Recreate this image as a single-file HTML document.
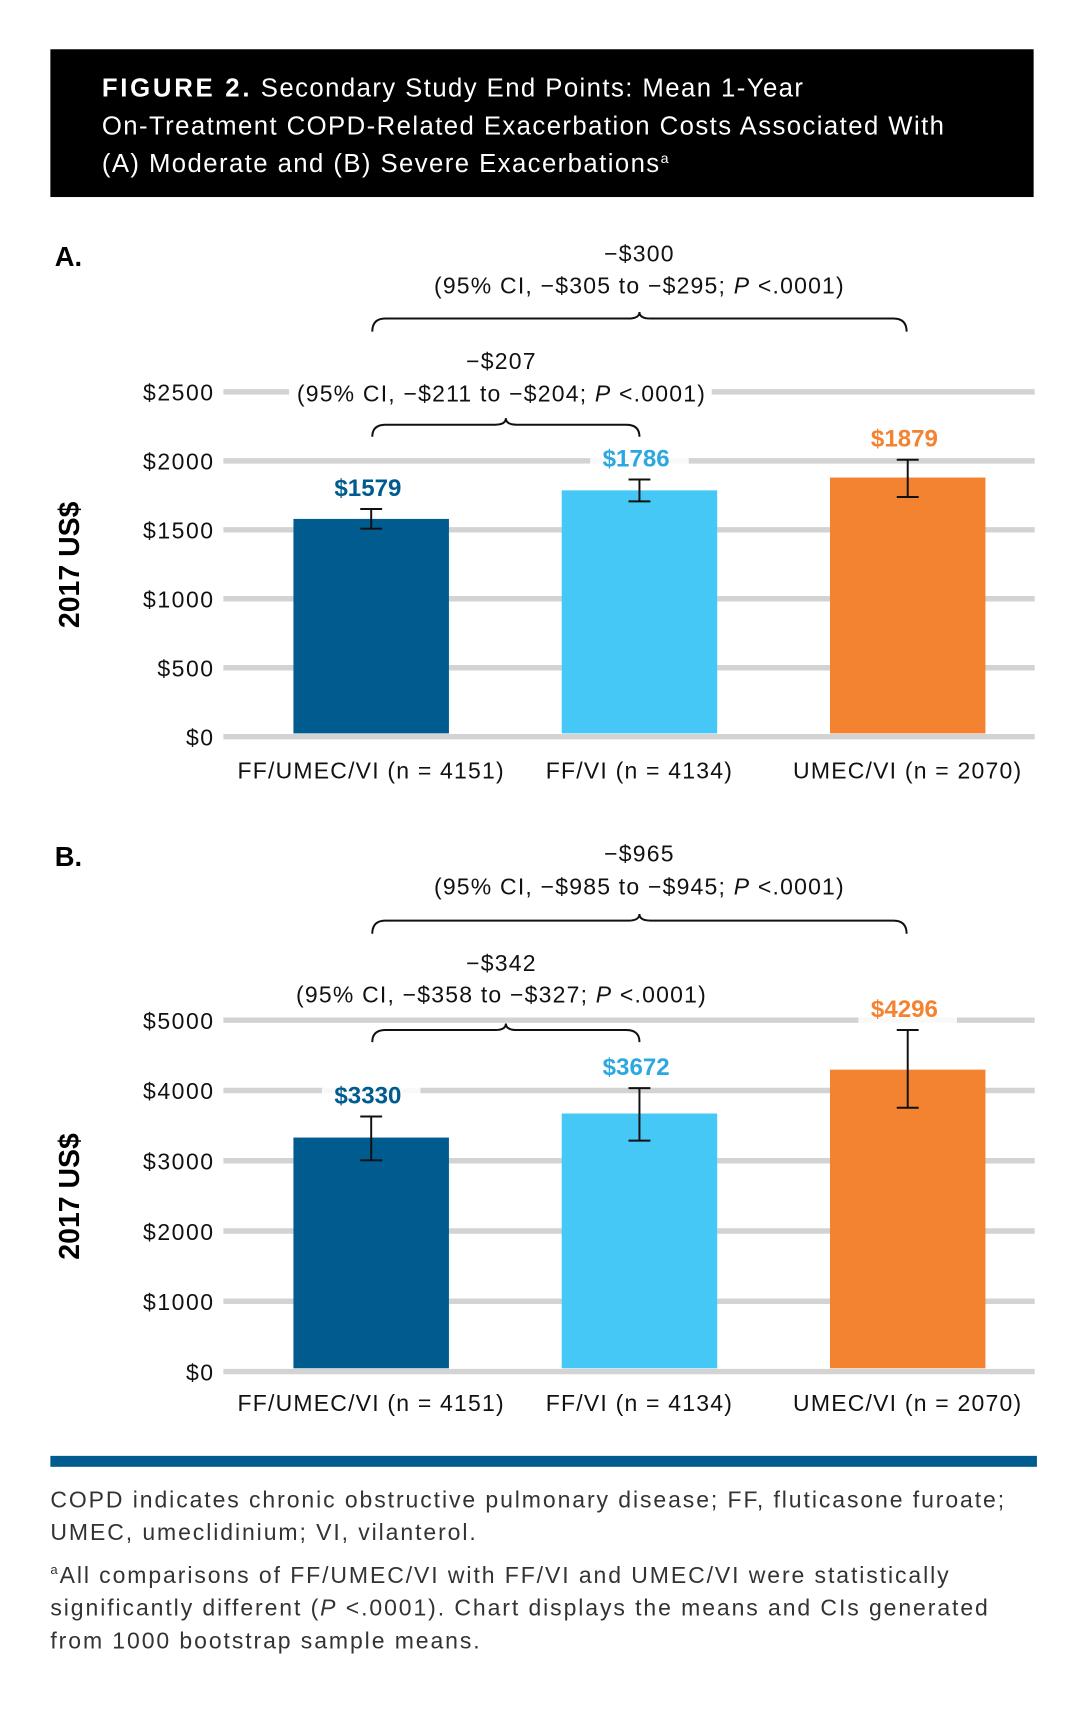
<!DOCTYPE html>
<html><head><meta charset="utf-8"><style>
html,body{margin:0;padding:0;background:#fff}
svg{display:block}
text{font-family:"Liberation Sans",sans-serif}
</style></head><body>
<svg id="fig" width="1084" height="1712" viewBox="0 0 990 1564" preserveAspectRatio="none" xmlns="http://www.w3.org/2000/svg">
<rect x="46" y="45" width="898" height="135" fill="#000"/>
<g fill="#fff" font-size="23.5" letter-spacing="1.3">
<text x="93" y="88"><tspan font-weight="bold" letter-spacing="2.5">FIGURE 2.</tspan> Secondary Study End Points: Mean 1-Year</text>
<text x="93" y="123">On-Treatment COPD-Related Exacerbation Costs Associated With</text>
<text x="93" y="157">(A) Moderate and (B) Severe Exacerbations<tspan font-size="13" dy="-8">a</tspan></text>
</g>
<g id="chartA"></g>
<g id="chartB"></g>
<rect x="46" y="1330" width="901" height="10" fill="#005b8f"/>
<g fill="#333" font-size="21" letter-spacing="1.75">
<text x="46" y="1377">COPD indicates chronic obstructive pulmonary disease; FF, fluticasone furoate;</text>
<text x="46" y="1407">UMEC, umeclidinium; VI, vilanterol.</text>
<text x="46" y="1446"><tspan font-size="12" dy="-8">a</tspan><tspan dy="8">All comparisons of FF/UMEC/VI with FF/VI and UMEC/VI were statistically</tspan></text>
<text x="46" y="1476">significantly different (<tspan font-style="italic">P</tspan> &lt;.0001). Chart displays the means and CIs generated</text>
<text x="46" y="1506">from 1000 bootstrap sample means.</text>
</g>
</svg>
<script>
const categories = ["FF/UMEC/VI (n = 4151)", "FF/VI (n = 4134)", "UMEC/VI (n = 2070)"];
const valuesA = [1579, 1786, 1879];
const lowA = [1508, 1706, 1738];
const highA = [1651, 1865, 2008];
const ticksA = [0, 500, 1000, 1500, 2000, 2500];
const valuesB = [3330, 3672, 4296];
const lowB = [3006, 3286, 3754];
const highB = [3630, 4034, 4860];
const ticksB = [0, 1000, 2000, 3000, 4000, 5000];
const colors = ["#005b8f", "#45c8f5", "#f48331"];
const labelColors = ["#005b8f", "#2ca8e0", "#f48331"];
const NS = "http://www.w3.org/2000/svg";
function mk(parent, tag, attrs, txt) {
  const e = document.createElementNS(NS, tag);
  for (const k in attrs) e.setAttribute(k, attrs[k]);
  if (txt !== undefined) e.textContent = txt;
  parent.appendChild(e);
  return e;
}
function brace(g, x1, x2, xm, y, h) {
  const d = `M${x1},${y+h} Q${x1},${y} ${x1+12},${y} L${xm-10},${y} Q${xm},${y} ${xm},${y-6} Q${xm},${y} ${xm+10},${y} L${x2-12},${y} Q${x2},${y} ${x2},${y+h}`;
  const p = mk(g, "path", {d: d, fill: "none", stroke: "#111", "stroke-width": 1.8});
  
  
}
function drawChart(id, cfg) {
  const g = document.getElementById(id);
  const y = v => cfg.y0 - (v / cfg.max) * (cfg.y0 - cfg.yTop);
  const xc = [339, 584, 829];
  const letter = mk(g, "text", {x: 50, y: cfg.letterY, "font-size": 25, "font-weight": "bold"}, cfg.letter);
  
  
  const yt = mk(g, "text", {x: 0, y: 0, "font-size": 26, "font-weight": "bold", "text-anchor": "middle", transform: `translate(72,${cfg.titleY}) rotate(-90)`}, "2017 US$");
  
  
  cfg.ticks.forEach(t => {
    const l = mk(g, "line", {x1: 204, x2: 945, y1: y(t), y2: y(t), stroke: "#d3d3d3", "stroke-width": 5});
    
    
    const tl = mk(g, "text", {x: 196, y: y(t) + 8, "font-size": 21, "letter-spacing": 1.4, "text-anchor": "end", fill: "#111"}, "$" + t);
    
    
  });
  cfg.values.forEach((v, i) => {
    const b = mk(g, "rect", {x: xc[i] - 71, y: y(v), width: 142, height: y(0) - y(v) - 3, fill: colors[i]});
    
    
    const eg = mk(g, "g", {stroke: "#111", "stroke-width": 1.8});
    
    
    mk(eg, "line", {x1: xc[i], x2: xc[i], y1: y(cfg.high[i]), y2: y(cfg.low[i])});
    mk(eg, "line", {x1: xc[i] - 10, x2: xc[i] + 10, y1: y(cfg.high[i]), y2: y(cfg.high[i])});
    mk(eg, "line", {x1: xc[i] - 10, x2: xc[i] + 10, y1: y(cfg.low[i]), y2: y(cfg.low[i])});
    const ly = y(cfg.high[i]) - 12;
    const bg = mk(g, "rect", {x: xc[i] - 45, y: ly - 22, width: 90, height: 28, fill: "#fff", opacity: 0.85});
    
    
    const vl = mk(g, "text", {x: xc[i] - 3, y: ly, "font-size": 22, "font-weight": "bold", "text-anchor": "middle", fill: labelColors[i]}, "$" + v);
    
    
    const cl = mk(g, "text", {x: xc[i], y: cfg.catY, "font-size": 21, "letter-spacing": 1.1, "text-anchor": "middle", fill: "#111"}, categories[i]);
    
    
  });
  const a = cfg.ann;
  if (a.mask) {
    const bgA = mk(g, "rect", {x: 264, y: a.innerCI - 20, width: 386, height: 26, fill: "#fff"});
    
    
  }
  [[584, a.outerDiff, a.outerY, a.outerText, a.outerCI], [458, a.innerDiff, a.innerY, a.innerText, a.innerCI]].forEach(([cx, diff, yy, ci, ciy]) => {
    const t1 = mk(g, "text", {x: cx, y: yy, "font-size": 21, "letter-spacing": 1.1, "text-anchor": "middle", fill: "#111"}, diff);
    
    
    const t2 = mk(g, "text", {x: cx, y: ciy, "font-size": 21, "letter-spacing": 1.1, "text-anchor": "middle", fill: "#111"});
    
    
    t2.innerHTML = ci;
  });
  brace(g, 340, 828, 584, a.outerB, 12);
  brace(g, 340, 584, 462, a.innerB, 11);
}
drawChart("chartA", {letter: "A.", letterY: 243, titleY: 516, y0: 673, yTop: 358, max: 2500, ticks: ticksA, values: valuesA, low: lowA, high: highA, catY: 711,
  ann: {mask: true, outerDiff: "\u2212$300", outerY: 239, outerCI: 268, outerText: "(95% CI, \u2212$305 to \u2212$295; <tspan font-style='italic'>P</tspan> &lt;.0001)", outerB: 291,
        innerDiff: "\u2212$207", innerY: 337, innerCI: 367, innerText: "(95% CI, \u2212$211 to \u2212$204; <tspan font-style='italic'>P</tspan> &lt;.0001)", innerB: 388}});
drawChart("chartB", {letter: "B.", letterY: 791, titleY: 1093, y0: 1253, yTop: 932, max: 5000, ticks: ticksB, values: valuesB, low: lowB, high: highB, catY: 1289,
  ann: {mask: false, outerDiff: "\u2212$965", outerY: 787, outerCI: 817, outerText: "(95% CI, \u2212$985 to \u2212$945; <tspan font-style='italic'>P</tspan> &lt;.0001)", outerB: 841,
        innerDiff: "\u2212$342", innerY: 887, innerCI: 916, innerText: "(95% CI, \u2212$358 to \u2212$327; <tspan font-style='italic'>P</tspan> &lt;.0001)", innerB: 941}});
</script>
</body></html>
